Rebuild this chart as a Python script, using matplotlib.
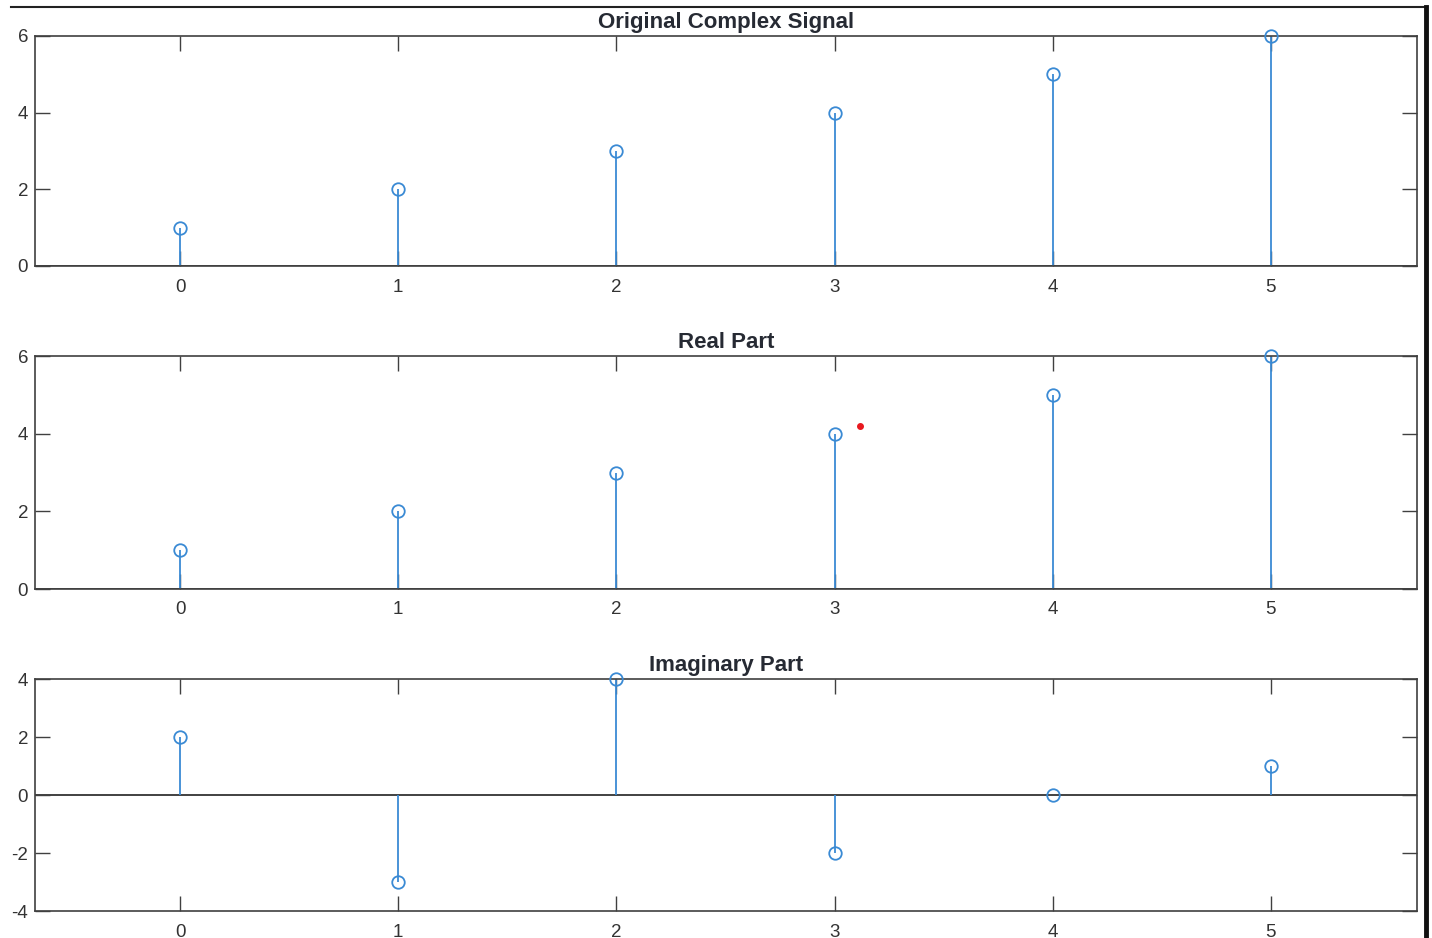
import numpy as np
import matplotlib.pyplot as plt
from matplotlib.lines import Line2D

# dados do sinal complexo
n = [0, 1, 2, 3, 4, 5]
parte_real = [1, 2, 3, 4, 5, 6]
parte_imag = [2, -3, 4, -2, 0, 1]
titulos = ['Original Complex Signal', 'Real Part', 'Imaginary Part']
ylims = [(0, 6), (0, 6), (-4, 4)]
yticks = [[0, 2, 4, 6], [0, 2, 4, 6], [-4, -2, 0, 2, 4]]
# ponto vermelho solto no segundo grafico
ponto_vermelho = (3.116, 4.2)

plt.rcParams['font.family'] = ['Liberation Sans', 'DejaVu Sans']
plt.rcParams['axes.unicode_minus'] = False
cor_stem = '#3a8ad4'
cor_eixo = '#404040'

fig = plt.figure(figsize=(14.32, 9.38), dpi=100)
W, H = 1432, 938
caixas = [(36, 266), (356, 589), (679, 911)]
series = [parte_real, parte_real, parte_imag]

for (topo, base), titulo, yl, yt, valores in zip(caixas, titulos, ylims, yticks, series):
    ax = fig.add_axes([35 / W, 1 - base / H, (1417 - 35) / W, (base - topo) / H])
    ax.vlines(n, 0, valores, color=cor_stem, lw=1.3, zorder=2)
    ax.plot(n, valores, 'o', mfc='none', mec=cor_stem, ms=9, mew=1.3, zorder=3, clip_on=False)
    ax.axhline(0, color='#333333', lw=1.3, zorder=1)
    ax.set_xlim(-0.665, 5.67)
    ax.set_ylim(*yl)
    ax.set_xticks(n)
    ax.set_yticks(yt)
    ax.tick_params(direction='in', length=11, width=1, colors=cor_eixo,
                   labelcolor='#333333', labelsize=13.5, top=True, right=True, pad=9)
    ax.tick_params(axis='y', pad=5)
    for s in ax.spines.values():
        s.set_color(cor_eixo)
        s.set_linewidth(1.2)
    ax.set_title(titulo, fontsize=16, fontweight='bold', pad=6, color='#262a33')
    if titulo == 'Real Part':
        ax.plot(*ponto_vermelho, 'o', color='#e8191f', ms=4, zorder=4)

# bordas pretas da captura de tela
fig.add_artist(Line2D([11 / W, 1427 / W], [1 - 7 / H, 1 - 7 / H], color='#222222', lw=1.5))
fig.add_artist(Line2D([1426 / W, 1426 / W], [1 - 7 / H, 0], color='#111111', lw=3.5))

plt.savefig('out.png', dpi=100)
plt.close()
